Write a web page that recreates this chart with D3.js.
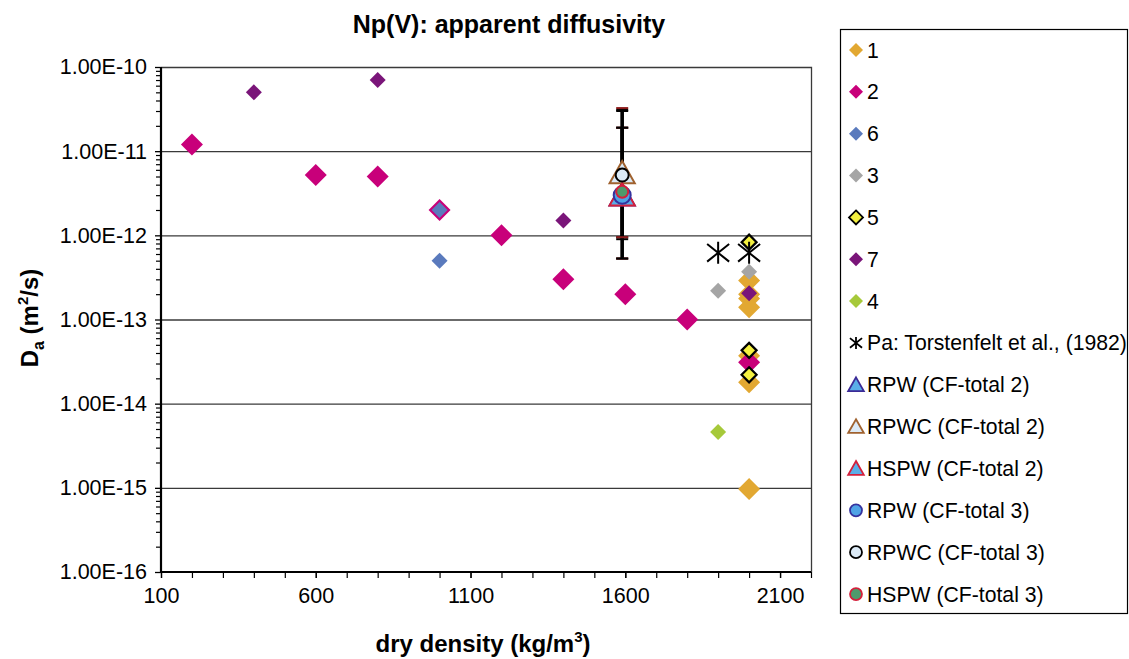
<!DOCTYPE html>
<html lang="en">
<head>
  <meta charset="utf-8" />
  <title>Np(V): apparent diffusivity</title>
  <script src="https://d3js.org/d3.v7.min.js"></script>
  <style>
    body { margin: 0; background: #fff; }
    text { font-family: "Liberation Sans", Arial, sans-serif; fill: #000; }
  </style>
</head>
<body>
  <div id="chart"></div>
  <script>
    // tick values
    var xTicks = [100, 600, 1100, 1600, 2100];
    var yTicks = [1e-10, 1e-11, 1e-12, 1e-13, 1e-14, 1e-15, 1e-16];

    // series (dry density, Da)
    var s1x = [2000, 2000, 2000, 2000, 2000, 2000, 2000];
    var s1y = [2.9e-13, 2.0e-13, 1.78e-13, 1.4e-13, 3.7e-14, 1.8e-14, 9.7e-16];
    var s2x = [200, 600, 800, 1000, 1200, 1400, 1600, 1800, 2000];
    var s2y = [1.2e-11, 5.2e-12, 5.0e-12, 2.0e-12, 1.0e-12, 3.0e-13, 2.0e-13, 1.0e-13, 3.1e-14];
    var s6x = [1000, 1000];
    var s6y = [2.0e-12, 5.0e-13];
    var s3x = [1900, 2000];
    var s3y = [2.2e-13, 3.7e-13];
    var s5x = [2000, 2000, 2000];
    var s5y = [8.3e-13, 4.3e-14, 2.2e-14];
    var s7x = [400, 800, 1400, 2000];
    var s7y = [5.0e-11, 7.0e-11, 1.5e-12, 2.05e-13];
    var s4x = [1900];
    var s4y = [4.6e-15];
    var paX = [1900, 2000];
    var paY = [6.2e-13, 6.2e-13];

    // CF-total series with error bars (value, low, high)
    var cfX = 1590;
    var rpw2 = [3.0e-12, 5.3e-13, 1.9e-11];
    var rpwc2 = [5.5e-12, 9.5e-13, 3.1e-11];
    var hspw2 = [3.0e-12, 5.3e-13, 1.9e-11];
    var rpw3 = [3.0e-12, 5.3e-13, 1.9e-11];
    var rpwc3 = [5.2e-12, 9.0e-13, 3.0e-11];
    var hspw3 = [3.3e-12, 9.5e-13, 3.25e-11];

    var W = 1129, H = 659;
    var plot = {left: 161, right: 811, top: 67, bottom: 572};

    var svg = d3.select("#chart").append("svg")
        .attr("width", W)
        .attr("height", H);

    var x = d3.scaleLinear().domain([100, 2200]).range([plot.left, plot.right]);
    var y = d3.scaleLog().domain([1e-16, 1e-10]).range([plot.bottom, plot.top]);

    // shapes
    function diamond(r) { return "M0," + (-r) + "L" + r + ",0L0," + r + "L" + (-r) + ",0Z"; }
    function triangle(r) { return "M0," + (-r) + "L" + (r * 1.05) + "," + (r * 0.85) + "L" + (-r * 1.05) + "," + (r * 0.85) + "Z"; }
    function star(r) {
      return "M" + (-r) + "," + (-r * 0.8) + "L" + r + "," + (r * 0.8) +
             "M" + (-r) + "," + (r * 0.8) + "L" + r + "," + (-r * 0.8) +
             "M0," + (-r) + "L0," + r;
    }

    // grid lines
    svg.append("g").selectAll("line")
       .data(yTicks.slice(1, -1))
       .enter().append("line")
       .attr("x1", plot.left).attr("x2", plot.right)
       .attr("y1", function(d) { return y(d) + 0.5; })
       .attr("y2", function(d) { return y(d) + 0.5; })
       .attr("stroke", "#3a3a3a").attr("stroke-width", 1.3);

    // plot border top/right
    svg.append("path")
       .attr("d", "M" + plot.left + "," + (plot.top + 0.5) + "H" + (plot.right + 0.5) + "V" + plot.bottom)
       .attr("fill", "none").attr("stroke", "#3a3a3a").attr("stroke-width", 1.3);

    // minor ticks
    var yMinor = [];
    yTicks.slice(1).forEach(function(t) {
      for (var k = 2; k <= 9; k++) yMinor.push(t * k);
    });
    var xMinor = d3.range(100, 2201, 100);

    svg.append("g")
       .attr("transform", "translate(" + plot.left + ",0)")
       .call(d3.axisLeft(y).tickValues(yMinor).tickSize(5).tickFormat(""))
       .call(function(g) { g.select(".domain").remove(); })
       .selectAll("line").attr("stroke-width", 1.2);

    svg.append("g")
       .attr("transform", "translate(0," + plot.bottom + ")")
       .call(d3.axisBottom(x).tickValues(xMinor).tickSize(6).tickFormat(""))
       .call(function(g) { g.select(".domain").remove(); })
       .selectAll("line").attr("stroke-width", 1.2);

    // y axis
    var yAxis = svg.append("g")
       .attr("transform", "translate(" + plot.left + ",0)")
       .call(d3.axisLeft(y).tickValues(yTicks).tickSize(6).tickPadding(8)
         .tickFormat(function(d) { return "1.00E" + Math.round(Math.log10(d)); }));
    yAxis.select(".domain").attr("stroke-width", 2.2).attr("d", "M0," + plot.top + "V" + plot.bottom);
    yAxis.selectAll("line").attr("stroke-width", 1.3);
    yAxis.selectAll("text").style("font-size", "21.5px");

    // x axis
    var xAxis = svg.append("g")
       .attr("transform", "translate(0," + plot.bottom + ")")
       .call(d3.axisBottom(x).tickValues(xTicks).tickSize(6).tickPadding(10)
         .tickFormat(d3.format("d")));
    xAxis.select(".domain").attr("stroke-width", 2.2).attr("d", "M" + plot.left + ",0H" + plot.right);
    xAxis.selectAll("line").attr("stroke-width", 1.3);
    xAxis.selectAll("text").style("font-size", "21.5px");

    // error bars
    var bars = [
      {v: rpw2, color: "#000"}, {v: rpwc2, color: "#000"}, {v: hspw2, color: "#8b1a1a"},
      {v: rpw3, color: "#000"}, {v: rpwc3, color: "#000"}, {v: hspw3, color: "#8b1a1a"}
    ];
    var eb = svg.append("g");
    bars.forEach(function(b) {
      var cx = x(cfX);
      eb.append("line").attr("x1", cx).attr("x2", cx)
        .attr("y1", y(b.v[1])).attr("y2", y(b.v[2]))
        .attr("stroke", "#000").attr("stroke-width", 3);
      [b.v[1], b.v[2]].forEach(function(e) {
        eb.append("line").attr("x1", cx - 6).attr("x2", cx + 6)
          .attr("y1", y(e)).attr("y2", y(e))
          .attr("stroke", b.color).attr("stroke-width", 2);
      });
    });

    // markers
    var series = [
      {xs: s1x, ys: s1y, shape: "d", r: 11, fill: "#E2A832", stroke: "#E2A832", sw: 0},
      {xs: s2x, ys: s2y, shape: "d", r: 11, fill: "#C8007A", stroke: "#C8007A", sw: 0},
      {xs: s6x, ys: s6y, shape: "d", r: 8, fill: "#5A7ABD", stroke: "#5A7ABD", sw: 0},
      {xs: s3x, ys: s3y, shape: "d", r: 8, fill: "#A5A5A5", stroke: "#A5A5A5", sw: 0},
      {xs: s5x, ys: s5y, shape: "d", r: 7.5, fill: "#F4F040", stroke: "#000", sw: 2.2},
      {xs: s7x, ys: s7y, shape: "d", r: 8, fill: "#7A1579", stroke: "#7A1579", sw: 0},
      {xs: s4x, ys: s4y, shape: "d", r: 8, fill: "#A6C93A", stroke: "#A6C93A", sw: 0},
      {xs: paX, ys: paY, shape: "s", r: 11, fill: "none", stroke: "#000", sw: 2},
      {xs: [cfX], ys: [rpw2[0]], shape: "t", r: 12, fill: "#5AAEE8", stroke: "#3B2A96", sw: 2},
      {xs: [cfX], ys: [rpwc2[0]], shape: "t", r: 12, fill: "#DCEAF6", stroke: "#A0622F", sw: 2},
      {xs: [cfX], ys: [hspw2[0]], shape: "t", r: 12, fill: "#5AAEE8", stroke: "#D4203C", sw: 2},
      {xs: [cfX], ys: [rpw3[0]], shape: "c", r: 8.5, fill: "#4FA3E6", stroke: "#35329E", sw: 2},
      {xs: [cfX], ys: [rpwc3[0]], shape: "c", r: 6.5, fill: "#DCEAF6", stroke: "#000", sw: 2},
      {xs: [cfX], ys: [hspw3[0]], shape: "c", r: 6, fill: "#4E9A6C", stroke: "#D4203C", sw: 2}
    ];

    function drawMarker(g, s, scale) {
      var r = s.r * scale;
      if (s.shape === "c") {
        return g.append("circle").attr("r", r);
      }
      var d = s.shape === "d" ? diamond(r) : s.shape === "t" ? triangle(r) : star(r);
      return g.append("path").attr("d", d);
    }

    var mk = svg.append("g");
    series.forEach(function(s) {
      s.xs.forEach(function(xv, i) {
        var g = mk.append("g").attr("transform", "translate(" + x(xv) + "," + y(s.ys[i]) + ")");
        drawMarker(g, s, 1)
          .attr("fill", s.fill)
          .attr("stroke", s.sw ? s.stroke : "none")
          .attr("stroke-width", s.sw);
      });
    });

    // legend
    var labels = ["1", "2", "6", "3", "5", "7", "4", "Pa: Torstenfelt et al., (1982)",
      "RPW (CF-total 2)", "RPWC (CF-total 2)", "HSPW (CF-total 2)",
      "RPW (CF-total 3)", "RPWC (CF-total 3)", "HSPW (CF-total 3)"];

    svg.append("rect")
       .attr("x", 840.5).attr("y", 29.5).attr("width", 287).attr("height", 584)
       .attr("fill", "none").attr("stroke", "#000").attr("stroke-width", 1.2);

    var leg = svg.append("g");
    labels.forEach(function(lab, i) {
      var s = series[i];
      var ly = 50 + i * 41.85;
      var g = leg.append("g").attr("transform", "translate(856," + ly + ")");
      var scale = s.shape === "d" ? 7 / s.r : s.shape === "t" ? 0.62 : s.shape === "s" ? 0.55 : 0.75;
      if (s.shape === "c") scale = 6 / s.r;
      drawMarker(g, s, scale)
        .attr("fill", s.fill)
        .attr("stroke", s.sw ? s.stroke : "none")
        .attr("stroke-width", s.sw ? 1.8 : 0);
      leg.append("text")
         .attr("x", 867).attr("y", ly + 7.5)
         .style("font-size", "21.2px")
         .text(lab);
    });

    // titles
    svg.append("text")
       .attr("x", 509).attr("y", 33)
       .attr("text-anchor", "middle")
       .style("font-size", "25px").style("font-weight", "bold")
       .text("Np(V): apparent diffusivity");

    var xl = svg.append("text")
       .attr("x", 483).attr("y", 652)
       .attr("text-anchor", "middle")
       .style("font-size", "24px").style("font-weight", "bold");
    xl.append("tspan").text("dry density (kg/m");
    xl.append("tspan").attr("dy", -10).style("font-size", "15px").text("3");
    xl.append("tspan").attr("dy", 10).text(")");

    var yl = svg.append("text")
       .attr("transform", "translate(38,318) rotate(-90)")
       .attr("text-anchor", "middle")
       .style("font-size", "24px").style("font-weight", "bold");
    yl.append("tspan").text("D");
    yl.append("tspan").attr("dy", 6).style("font-size", "16px").text("a");
    yl.append("tspan").attr("dy", -6).text(" (m");
    yl.append("tspan").attr("dy", -10).style("font-size", "15px").text("2");
    yl.append("tspan").attr("dy", 10).text("/s)");
  </script>
</body>
</html>
